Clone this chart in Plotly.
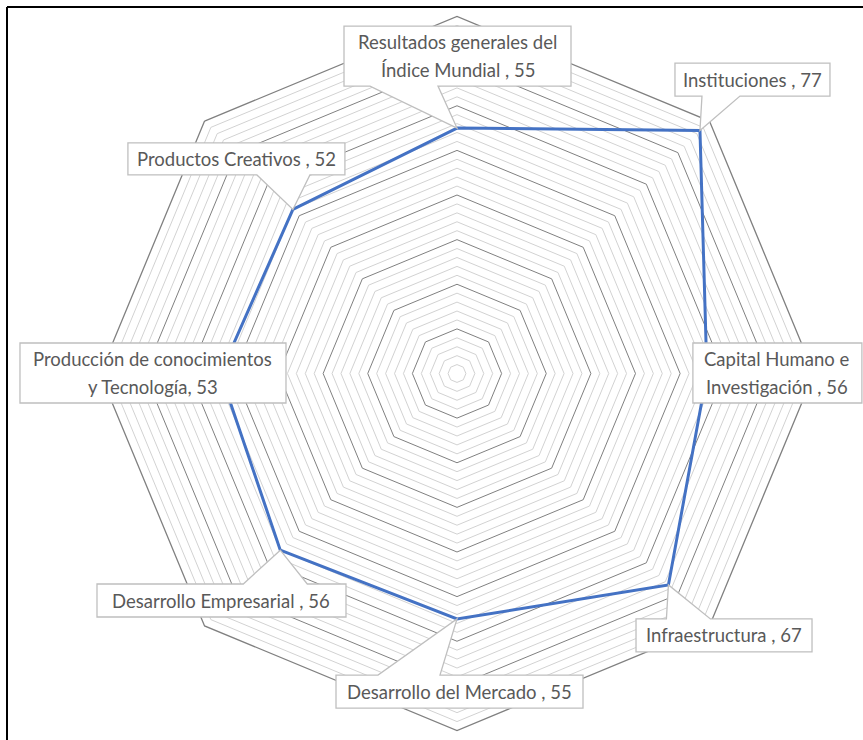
import math
import plotly.graph_objects as go

# ---------------- data ----------------
categories = [
    "Resultados generales del Índice Mundial",
    "Instituciones",
    "Capital Humano e Investigación",
    "Infraestructura",
    "Desarrollo del Mercado",
    "Desarrollo Empresarial",
    "Producción de conocimientos y Tecnología",
    "Productos Creativos",
]
values = [55, 77, 56, 67, 55, 56, 53, 52]
label_lines = [
    ["Resultados generales del", "Índice Mundial"],
    ["Instituciones"],
    ["Capital Humano e", "Investigación"],
    ["Infraestructura"],
    ["Desarrollo del Mercado"],
    ["Desarrollo Empresarial"],
    ["Producción de conocimientos", "y Tecnología"],
    ["Productos Creativos"],
]
value_sep = [" , ", " , ", " , ", " , ", " , ", " , ", ", ", " , "]
r_max = 80
major_ticks = [10, 20, 30, 40, 50, 60, 70]
minor_ticks = [t for t in range(2, r_max, 2) if t % 10]

# ---------------- layout geometry / styles ----------------
W, H = 863, 740
CX, CY, R = 457, 373.5, 357
# callout: box centre offset from the point (px, y down), box w, h, wedge side, wedge base x-range offsets
callouts = [
    dict(dx=0.5, dy=-72, w=227, h=60, side="bottom", b0=-87, b1=-19),
    dict(dx=52.5, dy=-51, w=155, h=33, side="bottom", b0=2, b1=40),
    dict(dx=70.5, dy=-0.5, w=169, h=60, side=None),
    dict(dx=55.6, dy=50.5, w=176, h=33, side="top", b0=-2, b1=42),
    dict(dx=2.5, dy=72.6, w=247, h=33, side="top", b0=-79, b1=-17),
    dict(dx=-58.8, dy=50.3, w=249, h=33, side="top", b0=-37, b1=27),
    dict(dx=-67.5, dy=-0.5, w=266, h=60, side=None),
    dict(dx=-56.5, dy=-50.5, w=217, h=32, side="bottom", b0=-36, b1=17),
]
LINE_GAP = 28
FONT = "Lato, Calibri, Carlito, sans-serif"
FONT_SIZE = 18.5
TEXT_COLOR = "#595959"
BOX_LINE = "#bfbfbf"

fig = go.Figure()

# minor gridlines (every 2 units) as closed polygons
mr, mt = [], []
for t in minor_ticks:
    mr += [t] * (len(categories) + 1) + [None]
    mt += categories + [categories[0]] + [None]
fig.add_trace(go.Scatterpolar(
    r=mr, theta=mt, mode="lines", connectgaps=False,
    line=dict(color="#d2d2d2", width=1), hoverinfo="skip", showlegend=False,
))

# data series
fig.add_trace(go.Scatterpolar(
    r=values + [values[0]], theta=categories + [categories[0]],
    mode="lines", line=dict(color="#4472C4", width=3),
    hoverinfo="skip", showlegend=False,
))

shapes = []
annotations = []
n = len(categories)
for i, (v, lines, c) in enumerate(zip(values, label_lines, callouts)):
    ang = math.radians(90 - i * 360 / n)
    px = CX + v / r_max * R * math.cos(ang)
    py = CY - v / r_max * R * math.sin(ang)
    ax, ay = px / W, 1 - py / H
    L, Rr = c["dx"] - c["w"] / 2, c["dx"] + c["w"] / 2
    T, B = c["dy"] - c["h"] / 2, c["dy"] + c["h"] / 2
    if c["side"] == "bottom":
        pts = [(c["b1"], B), (Rr, B), (Rr, T), (L, T), (L, B), (c["b0"], B), (0, 0)]
    elif c["side"] == "top":
        pts = [(c["b0"], T), (L, T), (L, B), (Rr, B), (Rr, T), (c["b1"], T), (0, 0)]
    else:
        pts = [(L, T), (Rr, T), (Rr, B), (L, B)]
    path = "M " + " L ".join(f"{x:.1f},{-y:.1f}" for x, y in pts) + " Z"
    shapes.append(dict(
        type="path", xref="paper", yref="paper", xsizemode="pixel", ysizemode="pixel",
        xanchor=ax, yanchor=ay, path=path, fillcolor="white",
        line=dict(color=BOX_LINE, width=1.3), layer="above",
    ))
    txt = list(lines)
    txt[-1] = txt[-1] + value_sep[i] + str(v)
    k = len(txt)
    for j, t in enumerate(txt):
        off = (j - (k - 1) / 2) * LINE_GAP
        annotations.append(dict(
            x=ax, y=ay, xref="paper", yref="paper", text=t, showarrow=False,
            xshift=c["dx"], yshift=-(c["dy"] + off),
            font=dict(family=FONT, size=FONT_SIZE, color=TEXT_COLOR),
            xanchor="center", yanchor="middle",
        ))

# outer frame: only top and left edges are visible in the reference
shapes.append(dict(type="line", xref="paper", yref="paper",
                   x0=7 / W, x1=1.0, y0=1 - 7 / H, y1=1 - 7 / H,
                   line=dict(color="black", width=2), layer="above"))
shapes.append(dict(type="line", xref="paper", yref="paper",
                   x0=7 / W, x1=7 / W, y0=0, y1=1 - 7 / H,
                   line=dict(color="black", width=2), layer="above"))

fig.update_layout(
    width=W, height=H,
    margin=dict(l=0, r=0, t=0, b=0),
    paper_bgcolor="white",
    showlegend=False,
    polar=dict(
        domain=dict(x=[(CX - R) / W, (CX + R) / W], y=[1 - (CY + R) / H, 1 - (CY - R) / H]),
        bgcolor="white",
        gridshape="linear",
        angularaxis=dict(
            direction="clockwise", rotation=90, showticklabels=False, ticks="",
            showgrid=False, showline=True, linecolor="#808080", linewidth=1.3,
        ),
        radialaxis=dict(
            range=[0, r_max], tickvals=major_ticks, showticklabels=False, ticks="",
            showline=False, showgrid=True, gridcolor="#808080", gridwidth=1.3,
        ),
    ),
    shapes=shapes,
    annotations=annotations,
)

fig.write_html(
    "out.html",
    config={"displayModeBar": False},
    post_script="document.body.style.margin='0';document.body.style.overflow='hidden';",
)
